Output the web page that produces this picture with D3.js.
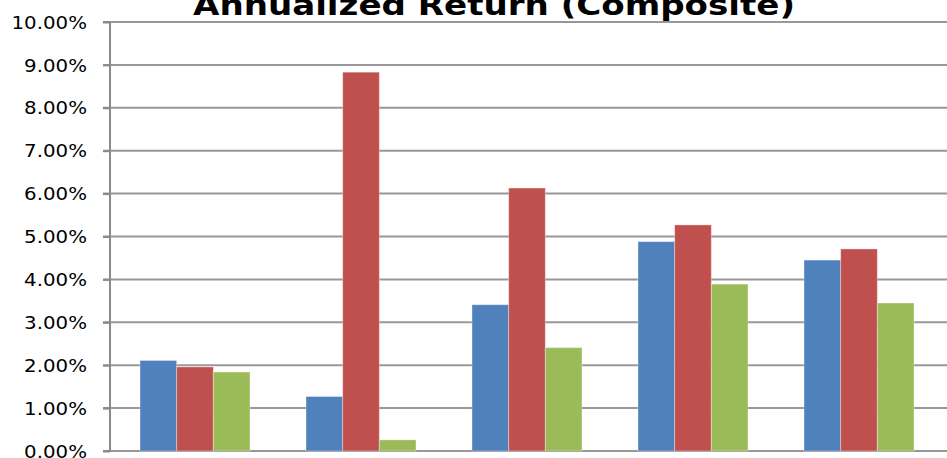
<!DOCTYPE html>
<html>
<head>
<meta charset="utf-8">
<script src="https://cdn.jsdelivr.net/npm/d3@7"></script>
<style>
  html, body { margin: 0; padding: 0; background: #fff; }
  svg { display: block; }
</style>
</head>
<body>
<svg id="chart" width="947" height="458"></svg>
<script>
// ---- data ----
const categories = ["1", "2", "3", "4", "5"];
const seriesNames = ["Series 1", "Series 2", "Series 3"];
const series1 = [2.11, 1.27, 3.41, 4.88, 4.45];
const series2 = [1.96, 8.83, 6.13, 5.27, 4.71];
const series3 = [1.84, 0.26, 2.41, 3.89, 3.45];
const yTicks = [0, 1, 2, 3, 4, 5, 6, 7, 8, 9, 10];
const chartTitle = "Annualized Return (Composite)";
const colors = ["#4F81BD", "#C0504D", "#9BBB59"];

(function () {
const seriesValues = [series1, series2, series3];
const rows = categories.map((c, i) => ({
  cat: c,
  vals: seriesValues.map((s, k) => ({ key: seriesNames[k], value: s[i], k }))
}));

const svg = d3.select("#chart");
const mLeft = 110, mRight = 947, mTop = 22, mBottom = 451;

const y = d3.scaleLinear().domain([0, 10]).range([mBottom, mTop]);
const x0 = d3.scaleBand().domain(categories).range([112, 942]).padding(0);
const step = x0.bandwidth();
const x1 = d3.scaleBand().domain(seriesNames)
  .range([step * 0.1687, step * 0.8313]).padding(0);

// gridlines
svg.append("g").selectAll("line").data(yTicks).join("line")
  .attr("x1", mLeft - 7).attr("x2", mRight)
  .attr("y1", d => y(d)).attr("y2", d => y(d))
  .attr("stroke", "#989898").attr("stroke-width", 2);

// bars
const g = svg.append("g");
g.selectAll("g.grp").data(rows).join("g").attr("class", "grp")
  .attr("transform", d => `translate(${x0(d.cat)},0)`)
  .selectAll("rect").data(d => d.vals).join("rect")
  .attr("x", d => x1(d.key))
  .attr("width", x1.bandwidth())
  .attr("y", d => y(d.value))
  .attr("height", d => y(0) - y(d.value))
  .attr("fill", d => colors[d.k])
  .attr("stroke", "rgba(255,255,255,0.35)")
  .attr("stroke-width", 1);

// y axis
const axis = svg.append("g").attr("transform", `translate(${mLeft},0)`)
  .call(d3.axisLeft(y).tickValues(yTicks).tickSize(7).tickPadding(16)
    .tickFormat(d => d.toFixed(2) + "%"));
axis.select(".domain").attr("stroke", "#8a8a8a").attr("stroke-width", 2)
  .attr("d", `M-7,${y(10)}H0V${y(0)}H-7`);
axis.selectAll(".tick line").attr("stroke", "#8a8a8a").attr("stroke-width", 2);
axis.selectAll(".tick text")
  .attr("font-family", "'DejaVu Sans', sans-serif")
  .attr("font-size", 18)
  .attr("fill", "#000")
  .attr("dy", "0.34em")
  .each(function () {
    const len = this.getComputedTextLength();
    d3.select(this).attr("textLength", len * 1.1).attr("lengthAdjust", "spacingAndGlyphs");
  });

// title
svg.append("text")
  .attr("x", 494).attr("y", 15)
  .attr("text-anchor", "middle")
  .attr("font-family", "'DejaVu Sans', sans-serif")
  .attr("font-weight", "bold")
  .attr("font-size", 28)
  .attr("fill", "#000")
  .attr("textLength", 602)
  .attr("lengthAdjust", "spacingAndGlyphs")
  .text(chartTitle);
})();
</script>
</body>
</html>
